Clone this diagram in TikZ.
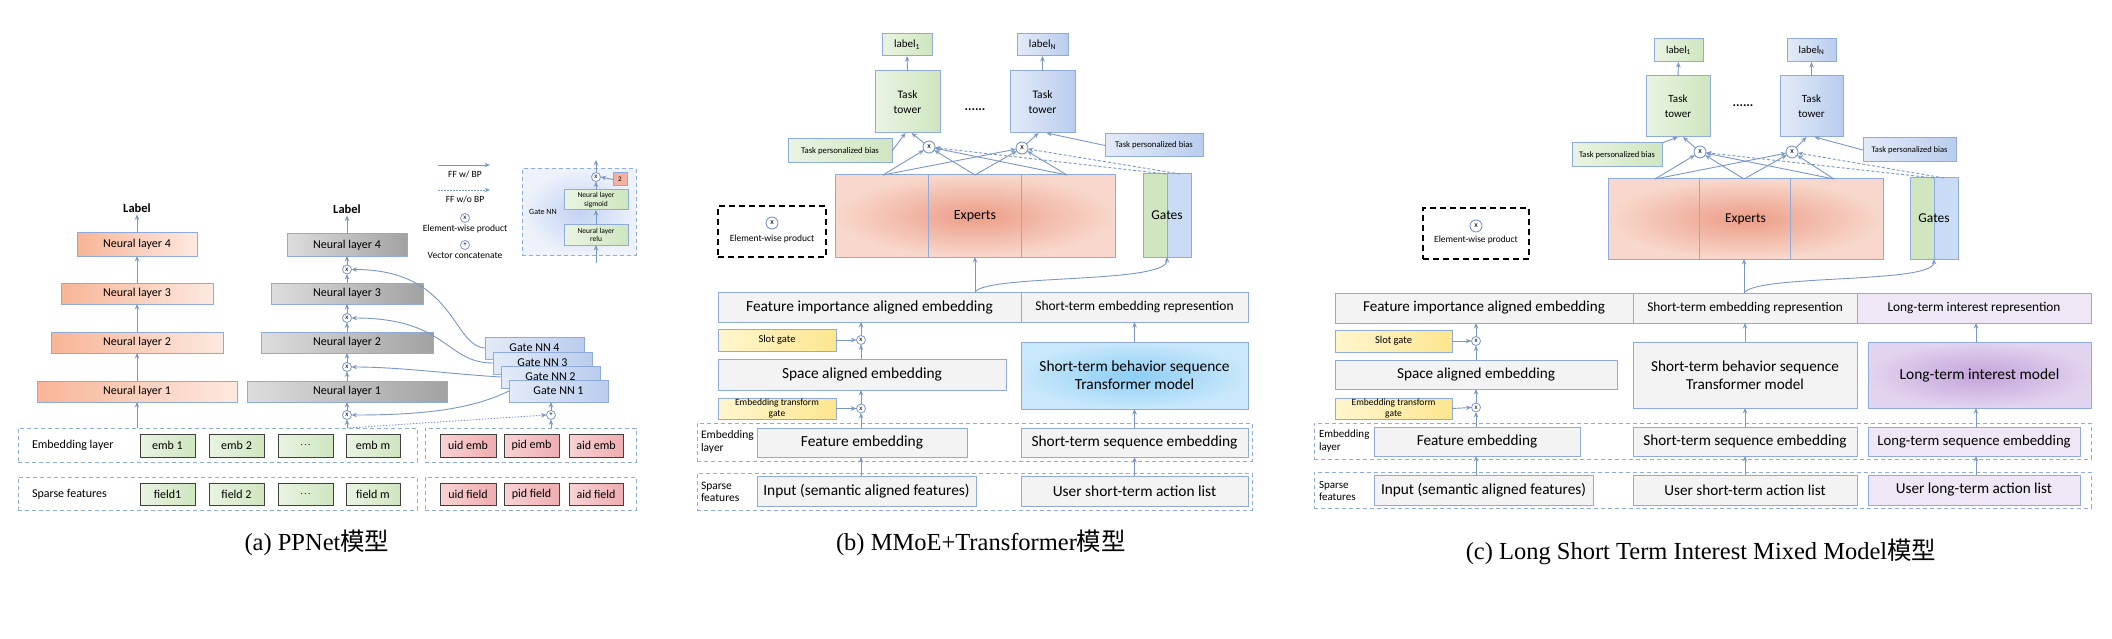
\documentclass[tikz,border=0pt]{standalone}
\usepackage{fontspec}
\setmainfont{Carlito}
\newfontfamily\capfont{Liberation Serif}
\newfontfamily\cjk{Noto Sans CJK SC}
\usetikzlibrary{arrows.meta}
\definecolor{lb}{HTML}{8FAADC}
\definecolor{ac}{HTML}{7B96C8}
\definecolor{dk}{HTML}{404040}
\definecolor{salA}{HTML}{F8B597}
\definecolor{salB}{HTML}{FDE9E0}
\definecolor{grA}{HTML}{DDDDDD}
\definecolor{grB}{HTML}{A2A2A2}
\definecolor{gnA}{HTML}{E9F4E2}
\definecolor{gnB}{HTML}{CFE6C0}
\definecolor{pkA}{HTML}{F9D3D4}
\definecolor{pkB}{HTML}{EFADB0}
\definecolor{blA}{HTML}{E3EBF8}
\definecolor{blB}{HTML}{BACDEE}
\definecolor{blC}{HTML}{CADBF5}
\definecolor{lgA}{HTML}{F3F3F3}
\definecolor{lgB}{HTML}{D2D2D2}
\definecolor{ylA}{HTML}{FFF6CF}
\definecolor{ylB}{HTML}{FDE68F}
\definecolor{cyA}{HTML}{C9E8FB}
\definecolor{cyB}{HTML}{8DCEF6}
\definecolor{puA}{HTML}{EFE7F5}
\definecolor{puB}{HTML}{C4A3DB}
\definecolor{puC}{HTML}{E2D3EE}
\definecolor{exA}{HTML}{F8D8CC}
\definecolor{exB}{HTML}{EC9D87}
\definecolor{rdA}{HTML}{F4B0A0}
\definecolor{inA}{HTML}{C3D3F3}
\definecolor{inB}{HTML}{EEF2FB}
\newcommand\fs[2]{\fontsize{#1}{#2}\selectfont}
\newcommand\Bx[7][]{\node[bx,#1,minimum width={#5-#3},minimum height={#6-#4}] (#2) at ({(#3+#5)/2},{(#4+#6)/2}) {#7};}
\tikzset{
  every node/.style={inner sep=0pt,outer sep=0pt},
  bx/.style={draw=lb,line width=1pt,align=center},
  nlo/.style={left color=salA,right color=salB,font=\fs{12}{14}},
  nlg/.style={left color=grA,right color=grB,font=\fs{12}{14}},
  gnn/.style={left color=blA,right color=blB,font=\fs{12}{14}},
  gbx/.style={draw=dk,left color=gnA,right color=gnB,font=\fs{12}{14}},
  rbx/.style={draw=dk,left color=pkA,right color=pkB,font=\fs{12}{14}},
  dbox/.style={draw=lb,line width=1pt,dash pattern=on 4pt off 3pt},
  gsm/.style={left color=gnA,right color=gnB,font=\fs{7.5}{8.5}},
  gnb/.style={left color=gnA,right color=gnB,font=\fs{11}{13}},
  blb/.style={left color=blA,right color=blB,font=\fs{11}{13}},
  grb/.style={left color=lgA,middle color=lgB,right color=lgA,font=\fs{15.4}{18}},
  ylb/.style={left color=ylA,right color=ylB},
  cyb/.style={inner color=cyB,outer color=cyA,font=\fs{15.4}{18}},
  pub/.style={left color=puA,middle color=puB,right color=puA,font=\fs{15.2}{18}},
  pur/.style={inner color=puB,outer color=puC,font=\fs{15.4}{18}},
  exb/.style={inner color=exB,outer color=exA,font=\fs{14}{16}},
  ewp/.style={draw=black,line width=1.6pt,dash pattern=on 6pt off 4pt},
  xs/.style={circle,draw=ac,line width=0.8pt,fill=white,minimum size=9pt,font=\fs{7}{7}},
  xb/.style={circle,draw=ac,line width=0.9pt,fill=white,minimum size=12pt,font=\fs{8}{8}},
  ar/.style={draw=ac,line width=0.9pt,-{Stealth[length=5.5pt,width=4.5pt]}},
  ard/.style={ar,dash pattern=on 1.5pt off 1.5pt},
  ardash/.style={ar,dash pattern=on 3pt off 2pt},
  lg/.style={font=\fs{9.5}{11}},
}
\begin{document}
\begin{tikzpicture}[x=1pt,y=-1pt]
\useasboundingbox[fill=white] (0,0) rectangle (2112,639);

% ================= Panel (a) =================
\Bx[nlo]{aL4}{77}{233}{197}{256}{Neural layer 4}
\Bx[nlo]{aL3}{61}{283}{213}{304}{Neural layer 3}
\Bx[nlo]{aL2}{51}{332}{223}{353}{Neural layer 2}
\Bx[nlo]{aL1}{37}{381}{237}{402}{Neural layer 1}
\node[font=\bfseries\fs{12.5}{14}] (aLabL) at (137,208) {Label};
\Bx[nlg]{aR4}{287}{234}{407}{256}{Neural layer 4}
\Bx[nlg]{aR3}{271}{283}{423}{304}{Neural layer 3}
\Bx[nlg]{aR2}{261}{332}{433}{353}{Neural layer 2}
\Bx[nlg]{aR1}{247}{381}{447}{402}{Neural layer 1}
\node[font=\bfseries\fs{12.5}{14}] (aLabR) at (347,209) {Label};

\coordinate (aLs) at (137,428);
\coordinate (aRs) at (347,428);
\coordinate (aPs) at (551,428);

\node[xs] (ax1) at (347,415) {x};
\node[xs] (ax2) at (347,367) {x};
\node[xs] (ax3) at (347,318) {x};
\node[xs] (ax4) at (347,269.5) {x};
\node[xs] (aplus) at (551,415) {+};

\coordinate (g4w) at (485,348);
\coordinate (g3w) at (493,363);
\coordinate (g2w) at (501,377);
\coordinate (g1w) at (509,391);
\draw[ar] (g4w) .. controls (452,346) and (455,269.5) .. (ax4.east);
\draw[ar] (g3w) .. controls (445,363) and (448,318) .. (ax3.east);
\draw[ar] (g2w) .. controls (450,374) and (400,367) .. (ax2.east);
\draw[ar] (g1w) .. controls (470,410) and (420,415) .. (ax1.east);

\Bx[gnn]{g4}{485}{337}{584}{359}{Gate NN 4}
\Bx[gnn]{g3}{493}{352}{592}{374}{Gate NN 3}
\Bx[gnn]{g2}{501}{366}{600}{388}{Gate NN 2}
\Bx[gnn]{g1}{509}{380}{608}{402}{Gate NN 1}

\draw[ar] (aLs) -- (aL1.south);
\draw[ar] (aL1.north) -- (aL2.south);
\draw[ar] (aL2.north) -- (aL3.south);
\draw[ar] (aL3.north) -- (aL4.south);
\draw[ar,shorten >=2pt] (aL4.north) -- (aLabL.south);
\draw[ar] (aRs) -- (ax1.south);
\draw[ar] (ax1.north) -- (aR1.south);
\draw[ar] (aR1.north) -- (ax2.south);
\draw[ar] (ax2.north) -- (aR2.south);
\draw[ar] (aR2.north) -- (ax3.south);
\draw[ar] (ax3.north) -- (aR3.south);
\draw[ar] (aR3.north) -- (ax4.south);
\draw[ar] (ax4.north) -- (aR4.south);
\draw[ar,shorten >=2pt] (aR4.north) -- (aLabR.south);
\draw[ar] (aPs) -- (aplus.south);
\draw[ar] (aplus.north) -- (aplus |- g1.south);
\draw[ard] (aRs) -- (aplus.west);

\Bx[dbox]{aEL}{18}{428}{417}{462}{}
\Bx[dbox]{aER}{425}{428}{636}{462}{}
\Bx[dbox]{aSL}{18}{477}{417}{510}{}
\Bx[dbox]{aSR}{425}{477}{636}{510}{}
\node[anchor=west,font=\fs{12}{14}] (aEt) at (32,445) {Embedding layer};
\node[anchor=west,font=\fs{12}{14}] (aSt) at (32,494) {Sparse features};
\Bx[gbx]{e1}{140}{434}{195}{457}{emb 1}
\Bx[gbx]{e2}{209}{434}{264}{457}{emb 2}
\Bx[gbx,font=\fs{9}{10}]{e3}{278}{434}{333}{457}{.\,.\,.}
\Bx[gbx]{e4}{346}{434}{400}{457}{emb m}
\Bx[rbx]{u1}{440}{434}{496}{457}{uid emb}
\Bx[rbx]{u2}{504}{434}{559}{457}{pid emb}
\Bx[rbx]{u3}{569}{434}{623}{457}{aid emb}
\Bx[gbx]{f1}{140}{483}{195}{505}{field1}
\Bx[gbx]{f2}{209}{483}{264}{505}{field 2}
\Bx[gbx,font=\fs{9}{10}]{f3}{278}{483}{333}{505}{.\,.\,.}
\Bx[gbx]{f4}{346}{483}{400}{505}{field m}
\Bx[rbx]{v1}{440}{483}{496}{505}{uid field}
\Bx[rbx]{v2}{504}{483}{559}{505}{pid field}
\Bx[rbx]{v3}{569}{483}{623}{505}{aid field}

% legend
\coordinate (lg1a) at (438,165); \coordinate (lg1b) at (490,165);
\coordinate (lg2a) at (438,190); \coordinate (lg2b) at (490,190);
\draw[ar] (lg1a) -- (lg1b);
\node[lg] (lgt1) at (465,174) {FF w/ BP};
\draw[ard] (lg2a) -- (lg2b);
\node[lg] (lgt2) at (465,199) {FF w/o BP};
\node[xs] (lgx) at (465,218) {x};
\node[lg] (lgt3) at (465,228.5) {Element-wise product};
\node[xs] (lgp) at (465,245) {+};
\node[lg] (lgt4) at (465,255) {Vector concatenate};

% inset gate NN
\Bx[dbox,inner color=inA,outer color=inB]{gin}{522}{169}{636}{255}{}
\node[font=\fs{8}{9}] (gint) at (543,212) {Gate NN};
\Bx[gsm]{relu}{564}{225}{628}{245}{Neural layer\\relu}
\Bx[gsm]{sig}{564}{190}{628}{210}{Neural layer\\sigmoid}
\node[xs] (ix) at (596,177) {x};
\Bx[fill=rdA,font=\fs{7}{8}]{two}{613}{173}{627}{186}{2}
\coordinate (ibot) at (596,263);
\coordinate (itop) at (596,160);
\draw[ar] (ibot) -- (relu.south);
\draw[ar] (relu.north) -- (sig.south);
\draw[ar] (sig.north) -- (ix.south);
\draw[ar] (ix.north) -- (itop);
\draw[ar] (two.west) -- (ix.east);

% ================= Panel (b) =================
\Bx[gnb]{bl1}{882}{34}{932}{56}{label\textsubscript{1}}
\Bx[blb]{blN}{1017}{34}{1068}{56}{label\textsubscript{N}}
\Bx[gnb,font=\fs{11.5}{15}]{bt1}{875}{71}{940}{133}{Task\\tower}
\Bx[blb,font=\fs{11.5}{15}]{btN}{1010}{71}{1075}{133}{Task\\tower}
\node[font=\bfseries\fs{13}{14}] (bdots) at (975,110) {......};
\Bx[gnb,font=\fs{8.7}{10}]{bb1}{788}{139}{892}{163}{Task personalized bias}
\Bx[blb,font=\fs{8.7}{10}]{bbN}{1105}{134}{1203}{157}{Task personalized bias}
\Bx[exb]{bexp}{835}{175}{1115}{257}{Experts}
\draw[lb,line width=1pt] (928,175) -- (928,257);
\draw[lb,line width=1pt] (1021,175) -- (1021,257);
\fill[gnB] (1143,174) rectangle (1167,257);
\fill[blC] (1167,174) rectangle (1191,257);
\draw[lb,line width=1pt] (1167,174) -- (1167,257);
\Bx[font=\fs{13.5}{15}]{bgat}{1143}{174}{1191}{257}{Gates}
\node[xb] (bx1) at (929,147) {x};
\node[xb] (bxN) at (1022,148) {x};

\Bx[ewp]{bewp}{718}{206}{826}{257}{}
\node[xb] (bewx) at (772,223) {x};
\node[font=\fs{9.5}{10}] (bewt) at (772,239) {Element-wise product};

\Bx[grb]{bfiae}{718}{292}{1021}{322}{Feature importance aligned embedding}
\Bx[grb,font=\fs{13.5}{15}]{bster}{1021}{292}{1248}{322}{Short-term embedding represention}
\Bx[ylb,font=\fs{10.5}{12}]{bslot}{718}{329}{836}{351}{Slot gate}
\node[xs] (bxs) at (861,340) {x};
\Bx[grb]{bsae}{718}{359}{1006}{390}{Space aligned embedding}
\Bx[ylb,font=\fs{9.5}{10.5}]{betg}{718}{398}{836}{419}{Embedding transform\\gate}
\node[xs] (bxe) at (861,408.5) {x};
\Bx[cyb]{btrans}{1021}{342}{1248}{409}{Short-term behavior sequence\\Transformer model}
\Bx[dbox]{bED}{697}{423}{1252}{461}{}
\Bx[dbox]{bSD}{697}{473}{1252}{510}{}
\node[anchor=west,align=left,font=\fs{11.5}{12.5}] (bEt) at (701,442) {Embedding\\layer};
\node[anchor=west,align=left,font=\fs{11.5}{12.5}] (bSt) at (701,492) {Sparse\\features};
\Bx[grb]{bfe}{757}{428}{967}{457}{Feature embedding}
\Bx[grb]{bstse}{1021}{428}{1248}{457}{Short-term sequence embedding}
\Bx[grb]{bin}{757}{476}{976}{506}{Input (semantic aligned features)}
\Bx[grb]{bustal}{1021}{476}{1248}{506}{User short-term action list}

\draw[ar] (bt1.north) -- (bl1.south);
\draw[ar] (btN.north) -- (blN.south);
\draw[ar] (bx1) -- ([xshift=4pt]bt1.south);
\draw[ar] (bb1.east) -- ([xshift=-2pt]bt1.south);
\draw[ar] (bxN) -- ([xshift=-4pt]btN.south);
\draw[ar] (bbN.west) -- ([xshift=4pt]btN.south);
\coordinate (be1) at (883,175);
\coordinate (be2) at (975,175);
\coordinate (be3) at (1067,175);
\foreach \e in {be1,be2,be3}{\draw[ar] (\e) -- (bx1); \draw[ar] (\e) -- (bxN);}
\coordinate (bg1) at (1166,174);
\coordinate (bg2) at (1180,174);
\draw[ardash] (bg1) -- (bx1);
\draw[ardash] (bg2) -- (bxN);
\coordinate (bj) at (975,292);
\draw[ar] (bj) -- (bexp.south);
\draw[ar] (bj) .. controls (988,274) and (1167,284) .. (bgat.south);
\draw[ar] (bxs |- bsae.north) -- (bxs.south);
\draw[ar] (bxs.north) -- (bxs |- bfiae.south);
\draw[ar] (bslot.east) -- (bxs.west);
\draw[ar] (bxe |- bfe.north) -- (bxe.south);
\draw[ar] (bxe.north) -- (bxe |- bsae.south);
\draw[ar] (betg.east) -- (bxe.west);
\draw[ar] (bxe |- bin.north) -- (bxe |- bfe.south);
\draw[ar] (bustal.north) -- (bstse.south);
\draw[ar] (bstse.north) -- (btrans.south);
\draw[ar] (btrans.north) -- (bster.south);

% ================= Panel (c) =================
\Bx[gnb,font=\fs{10.5}{12}]{cl1}{1654}{39}{1703}{62}{label\textsubscript{1}}
\Bx[blb,font=\fs{10.5}{12}]{clN}{1787}{39}{1836}{62}{label\textsubscript{N}}
\Bx[gnb,font=\fs{11}{15}]{ct1}{1646}{76}{1710}{137}{Task\\tower}
\Bx[blb,font=\fs{11}{15}]{ctN}{1780}{76}{1843}{137}{Task\\tower}
\node[font=\bfseries\fs{13}{14}] (cdots) at (1743,106) {......};
\Bx[gnb,font=\fs{8.5}{10}]{cb1}{1572}{143}{1662}{167}{Task personalized bias}
\Bx[blb,font=\fs{8.5}{10}]{cbN}{1863}{138}{1956}{162}{Task personalized bias}
\Bx[exb,font=\fs{13.5}{15}]{cexp}{1608}{179}{1883}{259}{Experts}
\draw[lb,line width=1pt] (1699,179) -- (1699,259);
\draw[lb,line width=1pt] (1790,179) -- (1790,259);
\fill[gnB] (1910,178) rectangle (1934,259);
\fill[blC] (1934,178) rectangle (1958,259);
\draw[lb,line width=1pt] (1934,178) -- (1934,259);
\Bx[font=\fs{13.5}{15}]{cgat}{1910}{178}{1958}{259}{Gates}
\node[xb] (cx1) at (1700,152) {x};
\node[xb] (cxN) at (1792,152) {x};

\Bx[ewp]{cewp}{1423}{208}{1529}{259}{}
\node[xb] (cewx) at (1476,226) {x};
\node[font=\fs{9.4}{10}] (cewt) at (1476,240) {Element-wise product};

\Bx[grb,font=\fs{15.1}{18}]{cfiae}{1335}{293}{1633}{323}{Feature importance aligned embedding}
\Bx[grb,font=\fs{13.3}{15}]{cster}{1633}{293}{1857}{323}{Short-term embedding represention}
\Bx[pub,font=\fs{13.3}{15}]{cltir}{1857}{293}{2091}{323}{Long-term interest represention}
\Bx[ylb,font=\fs{10.5}{12}]{cslot}{1335}{330}{1452}{352}{Slot gate}
\node[xs] (cxs) at (1476,341) {x};
\Bx[grb,font=\fs{15.2}{18}]{csae}{1335}{360}{1617}{389}{Space aligned embedding}
\Bx[ylb,font=\fs{9.5}{10.5}]{cetg}{1335}{398}{1452}{419}{Embedding transform\\gate}
\node[xs] (cxe) at (1476,407.5) {x};
\Bx[grb,font=\fs{15.2}{18}]{ctrans}{1633}{342}{1857}{408}{Short-term behavior sequence\\Transformer model}
\Bx[pur]{cltim}{1868}{342}{2091}{408}{Long-term interest model}
\Bx[dbox]{cED}{1314}{423}{2091}{459}{}
\Bx[dbox]{cSD}{1314}{472}{2091}{508}{}
\node[anchor=west,align=left,font=\fs{11}{12.5}] (cEt) at (1319,441) {Embedding\\layer};
\node[anchor=west,align=left,font=\fs{11}{12.5}] (cSt) at (1319,491) {Sparse\\features};
\Bx[grb,font=\fs{15.2}{18}]{cfe}{1374}{427}{1580}{456}{Feature embedding}
\Bx[grb,font=\fs{15.2}{18}]{cstse}{1633}{427}{1857}{456}{Short-term sequence embedding}
\Bx[pub,font=\fs{14.7}{18}]{cltse}{1868}{427}{2080}{456}{Long-term sequence embedding}
\Bx[grb,font=\fs{15.3}{18}]{cin}{1374}{475}{1593}{505}{Input (semantic aligned features)}
\Bx[grb,font=\fs{15.2}{18}]{custal}{1633}{475}{1857}{505}{User short-term action list}
\Bx[pub,font=\fs{15.2}{18}]{cultal}{1868}{475}{2080}{505}{User long-term action list}

\draw[ar] (ct1.north) -- (cl1.south);
\draw[ar] (ctN.north) -- (clN.south);
\draw[ar] (cx1) -- ([xshift=5pt]ct1.south);
\draw[ar] (cb1.north east) -- ([xshift=0pt]ct1.south);
\draw[ar] (cxN) -- ([xshift=-5pt]ctN.south);
\draw[ar] (cbN.west) -- ([xshift=3pt]ctN.south);
\coordinate (ce1) at (1655,179);
\coordinate (ce2) at (1744,179);
\coordinate (ce3) at (1834,179);
\foreach \e in {ce1,ce2,ce3}{\draw[ar] (\e) -- (cx1); \draw[ar] (\e) -- (cxN);}
\coordinate (cg1) at (1934,178);
\coordinate (cg2) at (1944,178);
\draw[ardash] (cg1) -- (cx1);
\draw[ardash] (cg2) -- (cxN);
\coordinate (cj) at (1744,293);
\draw[ar] (cj) -- (cexp.south -| cj);
\draw[ar] (cj) .. controls (1756,274) and (1934,284) .. (cgat.south);
\draw[ar] (cxs |- csae.north) -- (cxs.south);
\draw[ar] (cxs.north) -- (cxs |- cfiae.south);
\draw[ar] (cslot.east) -- (cxs.west);
\draw[ar] (cxe |- cfe.north) -- (cxe.south);
\draw[ar] (cxe.north) -- (cxe |- csae.south);
\draw[ar] (cetg.east) -- (cxe.west);
\draw[ar] (cxe |- cin.north) -- (cxe |- cfe.south);
\coordinate (cs1) at (1745,0);
\draw[ar] (cs1 |- custal.north) -- (cs1 |- cstse.south);
\draw[ar] (cs1 |- cstse.north) -- (cs1 |- ctrans.south);
\draw[ar] (cs1 |- ctrans.north) -- (cs1 |- cster.south);
\coordinate (cl0) at (1976,0);
\draw[ar] (cl0 |- cultal.north) -- (cl0 |- cltse.south);
\draw[ar] (cl0 |- cltse.north) -- (cl0 |- cltim.south);
\draw[ar] (cl0 |- cltim.north) -- (cl0 |- cltir.south);

% ================= Captions =================
\node[font=\capfont\fs{24.5}{27}] (capA) at (317,543) {(a) PPNet{\cjk 模型}};
\node[font=\capfont\fs{24.5}{27}] (capB) at (981,543) {(b) MMoE+Transformer{\cjk 模型}};
\node[font=\capfont\fs{24.5}{27}] (capC) at (1701,552) {(c) Long Short Term Interest Mixed Model{\cjk 模型}};
\end{tikzpicture}
\end{document}
